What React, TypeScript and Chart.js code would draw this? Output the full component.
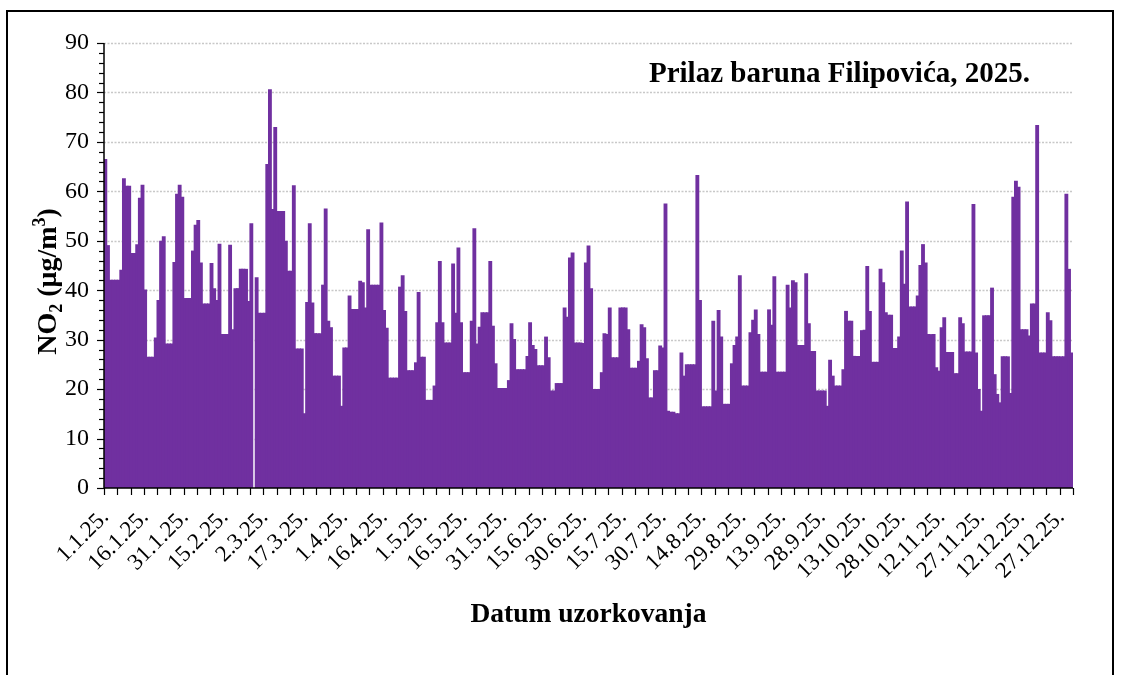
import React, { useEffect, useRef } from "react";
import { Chart, registerables } from "chart.js";

Chart.register(...registerables);

const FONT = '"Liberation Serif", "Times New Roman", serif';

const chartTitle = "Prilaz baruna Filipovića, 2025.";
const xTitle = "Datum uzorkovanja";
const barColor = "#7030A0";

const monthDays = [31, 28, 31, 30, 31, 30, 31, 31, 30, 31, 30, 31];

// Daily NO2 values (µg/m3)
const jan = [66.4, 49, 42, 42, 42, 42, 44, 62.5, 61, 61, 47.4, 47.4, 49.2, 58.6, 61.2, 40, 26.4, 26.4, 26.4, 30.3, 37.9, 49.9, 50.8, 29.1, 29.1, 29.1, 45.6, 59.4, 61.2, 58.8, 38.3];
const feb = [38.3, 38.3, 47.9, 53.1, 54.1, 45.5, 37.2, 37.2, 37.2, 45.4, 40.3, 37.9, 49.3, 31, 31, 31, 49.1, 32, 40.3, 40.3, 44.2, 44.2, 44.2, 37.7, 53.4, null, 42.5, 35.3];
const mar = [35.3, 35.3, 65.4, 80.5, 56.3, 72.9, 55.9, 55.9, 55.9, 49.9, 43.8, 43.8, 61.1, 28.1, 28.1, 28.1, 15.0, 37.5, 53.4, 37.4, 31.2, 31.2, 31.2, 41, 56.4, 33.7, 32.4, 22.6, 22.6, 22.6, 16.5];
const apr = [28.3, 28.3, 38.8, 36.1, 36.1, 36.1, 41.8, 41.5, 36.4, 52.2, 41, 41, 41, 41, 53.6, 35.9, 32.3, 22.2, 22.2, 22.2, 22.2, 40.6, 42.9, 35.7, 23.7, 23.7, 23.7, 25.3, 39.5, 26.4];
const may = [26.4, 17.7, 17.7, 17.7, 20.6, 33.4, 45.8, 33.4, 29.3, 29.3, 29.3, 45.3, 35.3, 48.5, 33.4, 23.3, 23.3, 23.3, 33.7, 52.4, 29.1, 32.5, 35.4, 35.4, 35.4, 45.8, 32.7, 25.1, 20.1, 20.1, 20.1];
const jun = [20.1, 21.7, 33.2, 30, 23.9, 23.9, 23.9, 23.9, 26.6, 33.4, 28.8, 28, 24.7, 24.7, 24.7, 30.5, 26.3, 19.6, 19.6, 21.1, 21.1, 21.1, 36.4, 34.5, 46.5, 47.5, 29.3, 29.3, 29.3, 29.2];
const jul = [45.5, 48.9, 40.3, 19.9, 19.9, 19.9, 23.3, 31.2, 31, 36.4, 26.3, 26.3, 26.3, 36.4, 36.4, 36.4, 32, 24.2, 24.2, 24.2, 25.6, 33, 32.4, 26.1, 18.2, 18.2, 23.7, 23.7, 28.7, 28.3, 57.4];
const aug = [15.5, 15.3, 15.3, 15, 15, 27.3, 22.6, 24.9, 24.9, 24.9, 24.9, 63.2, 37.9, 16.4, 16.4, 16.4, 16.4, 33.7, 19.6, 35.9, 30.5, 16.9, 16.9, 16.9, 25.1, 28.8, 30.5, 42.9, 20.6, 20.6, 20.6];
const sep = [31.4, 33.9, 36, 31, 23.4, 23.4, 23.4, 36, 32.9, 42.7, 23.4, 23.4, 23.4, 23.4, 41, 36.4, 41.9, 41.5, 28.8, 28.8, 28.8, 43.3, 33.2, 27.6, 27.6, 19.6, 19.6, 19.6, 19.6, 16.5];
const oct = [25.8, 22.6, 20.6, 20.6, 20.6, 23.9, 35.7, 33.7, 33.7, 26.6, 26.6, 26.6, 31.8, 31.9, 44.8, 35.7, 25.4, 25.4, 25.4, 44.2, 41.5, 35.4, 34.9, 34.9, 28.2, 28.2, 30.5, 47.9, 41.2, 57.8, 36.6];
const nov = [36.6, 36.6, 38.8, 45, 49.2, 45.5, 31, 31, 31, 24.3, 23.6, 32.4, 34.4, 27.4, 27.4, 27.4, 23.1, 23.1, 34.4, 33.2, 27.5, 27.5, 27.5, 57.3, 27.3, 19.9, 15.5, 34.8, 34.8, 34.8];
const dec = [40.4, 22.9, 18.9, 17.2, 26.5, 26.5, 26.5, 19.1, 58.8, 62, 60.8, 32, 32, 32, 30.7, 37.2, 37.2, 73.3, 27.3, 27.3, 27.3, 35.4, 33.8, 26.5, 26.5, 26.5, 26.5, 26.5, 59.4, 44.2, 27.3];

const no2Values = [...jan, ...feb, ...mar, ...apr, ...may, ...jun, ...jul, ...aug, ...sep, ...oct, ...nov, ...dec];

const categories: string[] = [];
monthDays.forEach((n, m) => {
  for (let d = 1; d <= n; d++) categories.push(`${d}.${m + 1}.25.`);
});

const tickLabels = ["1.1.25.", "16.1.25.", "31.1.25.", "15.2.25.", "2.3.25.", "17.3.25.", "1.4.25.", "16.4.25.", "1.5.25.", "16.5.25.", "31.5.25.", "15.6.25.", "30.6.25.", "15.7.25.", "30.7.25.", "14.8.25.", "29.8.25.", "13.9.25.", "28.9.25.", "13.10.25.", "28.10.25.", "12.11.25.", "27.11.25.", "12.12.25.", "27.12.25."];

const yMin = 0;
const yMax = 90;
const yStep = 10;
const yMinorStep = 2;

const decor = {
  id: "decor",
  beforeDatasetsDraw(chart: any) {
    const { ctx, chartArea: a, scales } = chart;
    const y = scales.y;
    ctx.save();
    ctx.strokeStyle = "#c8c8c8";
    ctx.lineWidth = 1.5;
    ctx.setLineDash([2, 1.5]);
    for (let v = yMin + yStep; v <= yMax; v += yStep) {
      const py = Math.round(y.getPixelForValue(v)) + 0.5;
      ctx.beginPath();
      ctx.moveTo(a.left, py);
      ctx.lineTo(a.right, py);
      ctx.stroke();
    }
    ctx.restore();
  },
  afterDatasetsDraw(chart: any) {
    const { ctx, chartArea: a, scales } = chart;
    const y = scales.y;
    const x = scales.x;
    ctx.save();
    ctx.setLineDash([]);
    ctx.strokeStyle = "#000";
    ctx.lineWidth = 1.5;
    ctx.beginPath();
    ctx.moveTo(a.left, a.top);
    ctx.lineTo(a.left, a.bottom);
    ctx.lineTo(a.right, a.bottom);
    ctx.stroke();
    ctx.lineWidth = 1.2;
    for (let v = yMin; v <= yMax; v += yMinorStep) {
      const py = Math.round(y.getPixelForValue(v)) + 0.5;
      const len = v % yStep === 0 ? 7 : 5;
      ctx.beginPath();
      ctx.moveTo(a.left - len, py);
      ctx.lineTo(a.left, py);
      ctx.stroke();
    }
    const half = (x.getPixelForValue(1) - x.getPixelForValue(0)) / 2;
    for (let i = 0; i <= categories.length; i += 5) {
      const px = Math.round(x.getPixelForValue(i) - half) + 0.5;
      ctx.beginPath();
      ctx.moveTo(px, a.bottom);
      ctx.lineTo(px, a.bottom + 7);
      ctx.stroke();
    }

    ctx.fillStyle = "#000";
    // chart title
    ctx.font = `bold 29px ${FONT}`;
    ctx.textAlign = "right";
    ctx.textBaseline = "alphabetic";
    ctx.fillText(chartTitle, 1030, 82);

    // x title
    ctx.textAlign = "center";
    ctx.font = `bold 27.5px ${FONT}`;
    ctx.fillText(xTitle, (a.left + a.right) / 2, 622);

    // y title with sub/superscript
    const parts = [
      { t: "NO", s: 28, dy: 0 },
      { t: "2", s: 18, dy: 6 },
      { t: " (μg/m", s: 28, dy: 0 },
      { t: "3", s: 18, dy: -11 },
      { t: ")", s: 28, dy: 0 },
    ];
    ctx.textAlign = "left";
    let total = 0;
    for (const p of parts) {
      ctx.font = `bold ${p.s}px ${FONT}`;
      total += ctx.measureText(p.t).width;
    }
    ctx.translate(56, (a.top + a.bottom) / 2 + 16);
    ctx.rotate(-Math.PI / 2);
    let cx = -total / 2;
    for (const p of parts) {
      ctx.font = `bold ${p.s}px ${FONT}`;
      ctx.fillText(p.t, cx, p.dy);
      cx += ctx.measureText(p.t).width;
    }
    ctx.restore();
  },
};

export default function App() {
  const ref = useRef<HTMLCanvasElement | null>(null);
  useEffect(() => {
    if (!ref.current) return;
    const chart = new Chart(ref.current, {
      type: "bar",
      data: {
        labels: categories,
        datasets: [
          {
            data: no2Values as any,
            backgroundColor: barColor,
            borderWidth: 0,
            barPercentage: 1,
            categoryPercentage: 1,
            inflateAmount: 0.6,
          } as any,
        ],
      },
      options: {
        responsive: false,
        maintainAspectRatio: false,
        animation: false,
        layout: { padding: { left: 0, right: 50, top: 43, bottom: 0 } },
        plugins: {
          legend: { display: false },
          tooltip: { enabled: false },
          title: { display: false },
        },
        scales: {
          x: {
            grid: { display: false, drawTicks: false },
            border: { display: false },
            ticks: {
              autoSkip: false,
              maxRotation: 45,
              minRotation: 45,
              padding: 16,
              color: "#000",
              font: { family: FONT, size: 23 },
              callback: (_v: any, i: number) => (tickLabels.includes(categories[i]) ? categories[i] : ""),
            },
            afterFit: (s: any) => {
              s.height = 187;
            },
          },
          y: {
            min: yMin,
            max: yMax,
            grid: { display: false, drawTicks: false },
            border: { display: false },
            ticks: {
              stepSize: yStep,
              padding: 15,
              color: "#000",
              font: { family: FONT, size: 24 },
            },
            afterFit: (s: any) => {
              s.width = 104;
            },
          },
        },
      },
      plugins: [decor],
    });
    return () => chart.destroy();
  }, []);

  return (
    <>
      <div
        style={{
          position: "fixed",
          left: 6,
          top: 10,
          width: 1108,
          height: 720,
          border: "2px solid #000",
          boxSizing: "border-box",
          background: "#fff",
        }}
      />
      <canvas
        ref={ref}
        width={1123}
        height={675}
        style={{ position: "fixed", left: 0, top: 0, width: 1123, height: 675 }}
      />
    </>
  );
}
